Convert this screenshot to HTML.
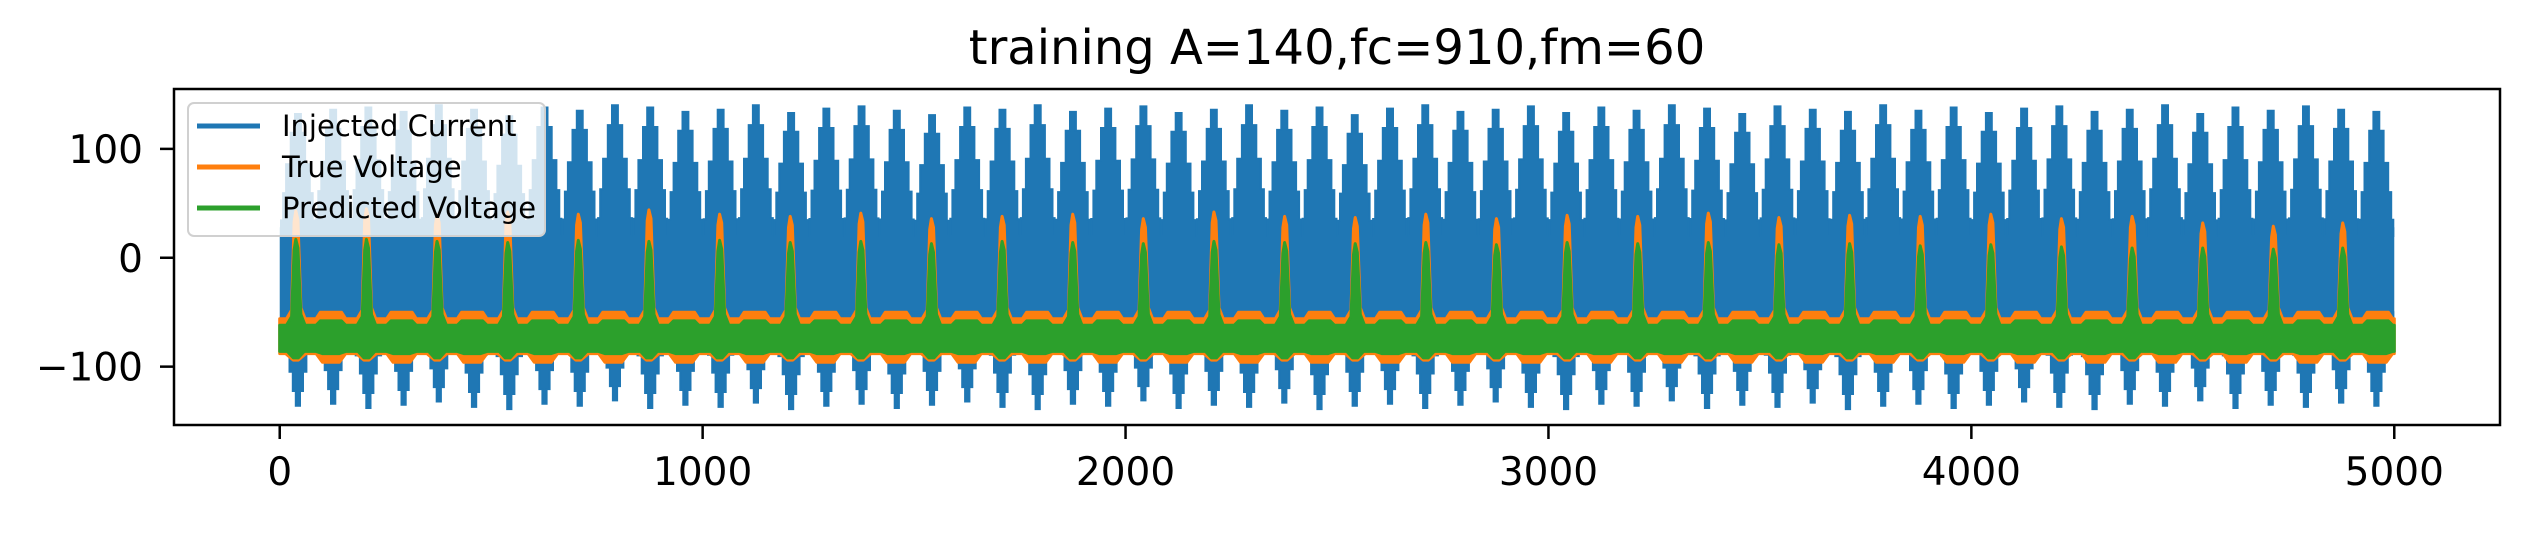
<!DOCTYPE html>
<html><head><meta charset="utf-8"><style>
html,body{margin:0;padding:0;background:#fff;}
svg{display:block;font-family:"DejaVu Sans","Liberation Sans",sans-serif;}
</style></head><body>
<svg id="chart" width="2528" height="540" viewBox="0 0 2528 540" xmlns="http://www.w3.org/2000/svg">
<rect width="2528" height="540" fill="#fff"/>
<text x="1337" y="64" font-size="48" text-anchor="middle">training A=140,fc=910,fm=60</text>
<defs><clipPath id="plotclip"><rect x="174" y="89" width="2326" height="336"/></clipPath></defs>
<g id="series" clip-path="url(#plotclip)"></g>
<g id="axes"></g>
<g id="legend"></g>
</svg>
<script>
// ---- data ----
const xTicks = [0, 1000, 2000, 3000, 4000, 5000];
const yTicks = [100, 0, -100];
const seriesNames = ["Injected Current", "True Voltage", "Predicted Voltage"];
const burstStart = 43;
const burstPeriod = 83.3;
const burstTop = [132,136,138,134,140,136,130,138,135,140,138,134,136,140,133,137,139,135,131,138,136,140,134,137,139,133,136,140,135,138,131,137,140,134,136,139,133,138,135,140,137,132,139,136,134,140,135,138,133,137,139,134,136,140,132,138,135,139,136,134];
const burstBottom = [-136,-134,-138,-135,-132,-137,-139,-134,-136,-131,-138,-135,-137,-133,-139,-136,-134,-138,-135,-132,-137,-139,-134,-136,-131,-138,-135,-137,-133,-139,-136,-134,-138,-135,-132,-137,-139,-134,-136,-131,-138,-135,-137,-133,-139,-136,-134,-138,-135,-132,-137,-139,-134,-136,-131,-138,-135,-137,-133,-136];
const spikeX = [38,205,372,539,706,873,1040,1207,1374,1541,1708,1875,2042,2209,2376,2543,2710,2877,3044,3211,3378,3545,3712,3879,4046,4213,4380,4547,4714,4878];
const trueSpikeTop = [43,45,40,42,40,44,40,38,41,36,38,40,36,42,38,37,40,36,39,38,41,37,39,38,40,36,38,32,29,32];
const predSpikeTop = [17,17,15,14,16,15,16,14,15,13,15,14,13,15,14,13,14,12,14,13,14,12,13,11,12,10,9,9,8,9];
const trueBaseline = -70;
const predBaseline = -72;

// ---- scales ----
const X0 = 174, X1 = 2500, Y0 = 89, Y1 = 425;
const xMin = -250, xMax = 5250, yMin = -153.6, yMax = 155;
function xs(v){ return X0 + (v - xMin) / (xMax - xMin) * (X1 - X0); }
function ys(v){ return Y1 - (v - yMin) / (yMax - yMin) * (Y1 - Y0); }
const NS = "http://www.w3.org/2000/svg";
function mk(tag, attrs, parent){
  const e = document.createElementNS(NS, tag);
  for (const k in attrs) e.setAttribute(k, attrs[k]);
  parent.appendChild(e); return e;
}
const gS = document.getElementById('series');
const gA = document.getElementById('axes');
const gL = document.getElementById('legend');
const BLUE = "#1f77b4", ORANGE = "#ff7f0e", GREEN = "#2ca02c";
function pts(arr){ return arr.map(p => xs(p[0]).toFixed(1) + "," + ys(p[1]).toFixed(1)).join(" "); }
function stepify(arr, rising){
  const out = [];
  for (let j = 0; j < arr.length; j++) {
    if (j > 0) out.push(rising ? [arr[j][0], arr[j-1][1]] : [arr[j-1][0], arr[j][1]]);
    out.push(arr[j]);
  }
  return out;
}

// ---- injected current ----
const band = mk('rect', {x: xs(0), y: ys(28), width: xs(5000) - xs(0), height: ys(-62) - ys(28), fill: BLUE}, gS);


const upFrac = [[1.0, 7], [0.87, 17], [0.65, 28], [0.45, 35], [0.26, 40]];
const dnFrac = [[1.0, 5], [0.9, 12], [0.77, 20], [0.65, 30], [0.5, 40]];
for (let i = 0; i < burstTop.length; i++) {
  const c = burstStart + i * burstPeriod;
  const up = [];
  for (let k = upFrac.length - 1; k >= 0; k--) { up.push([c - upFrac[k][1], burstTop[i]*upFrac[k][0]]); }
  const upR = upFrac.map(f => [c + f[1], burstTop[i]*f[0]]);
  const upPoly = [[c - 40, 20]].concat(stepify(up, true)).concat(stepify(upR, false)).concat([[c + 40, 20]]);
  const p1 = mk('polygon', {points: pts(upPoly), fill: BLUE, stroke: BLUE, 'stroke-width': 2}, gS);
  
  
  const dn = [];
  for (let k = dnFrac.length - 1; k >= 0; k--) { dn.push([c - dnFrac[k][1], burstBottom[i]*dnFrac[k][0]]); }
  const dnR = dnFrac.map(f => [c + f[1], burstBottom[i]*f[0]]);
  const dnPoly = [[c - 40, -50]].concat(stepify(dn, true)).concat(stepify(dnR, false)).concat([[c + 40, -50]]);
  const p2 = mk('polygon', {points: pts(dnPoly), fill: BLUE, stroke: BLUE, 'stroke-width': 2}, gS);
  
  
}

// ---- voltages ----
function voltage(top, base, bumpTop, bumpBot, lo, hi, color, name, w){
  const poly = [[0, base + hi]];
  for (let i = 0; i < spikeX.length; i++) {
    const s = spikeX[i];
    const mid = s + 83;
    poly.push([s - 22, base + hi], [s - 10, base + hi + 8], [s - 4, top[i] - 10], [s, top[i]], [s + 5, top[i] - 8], [s + 12, base + hi + 10], [s + 22, base + hi]);
    if (mid < 5000) poly.push([mid - 35, base + hi], [mid - 25, bumpTop], [mid + 25, bumpTop], [mid + 35, base + hi]);
  }
  poly.push([5000, base + hi], [5000, base + lo]);
  for (let i = spikeX.length - 1; i >= 0; i--) {
    const s = spikeX[i];
    const mid = s + 83;
    if (mid < 5000) poly.push([mid + 35, base + lo], [mid + 20, bumpBot], [mid - 20, bumpBot], [mid - 35, base + lo]);
    poly.push([s + w, base + lo], [s + 6, base + lo - 6], [s - 6, base + lo - 6], [s - w, base + lo]);
  }
  poly.push([0, base + lo]);
  const p = mk('polygon', {points: pts(poly), fill: color, stroke: color, 'stroke-width': 3, 'stroke-linejoin': 'round'}, gS);
  
  
}
voltage(trueSpikeTop, trueBaseline, -50, -96, -18, 14, ORANGE, 'true-voltage-line', 24);
voltage(predSpikeTop, predBaseline, -58, -88, -14, 10, GREEN, 'predicted-voltage-line', 20);

// ---- axes ----
const frame = mk('rect', {x: X0, y: Y0, width: X1 - X0, height: Y1 - Y0, fill: 'none', stroke: '#000', 'stroke-width': 2.5}, gA);


xTicks.forEach(t => {
  const l = mk('line', {x1: xs(t), x2: xs(t), y1: Y1, y2: Y1 + 14, stroke: '#000', 'stroke-width': 2.5}, gA);
  
  
  const tx = mk('text', {x: xs(t), y: 485, 'font-size': 39, 'text-anchor': 'middle'}, gA);
  tx.textContent = String(t);
  
  
});
yTicks.forEach(t => {
  const l = mk('line', {x1: X0 - 14, x2: X0, y1: ys(t), y2: ys(t), stroke: '#000', 'stroke-width': 2.5}, gA);
  
  
  const tx = mk('text', {x: 143, y: ys(t) + 14, 'font-size': 39, 'text-anchor': 'end'}, gA);
  tx.textContent = t < 0 ? "\u2212" + Math.abs(t) : String(t);
  
  
});

// ---- legend ----
const lb = mk('rect', {x: 188, y: 103, width: 357, height: 133, rx: 6, fill: 'rgba(255,255,255,0.8)', stroke: '#d0d0d0', 'stroke-width': 2}, gL);


const colors = [BLUE, ORANGE, GREEN];
seriesNames.forEach((n, i) => {
  const yy = 126 + i * 41;
  const l = mk('line', {x1: 197, x2: 260, y1: yy, y2: yy, stroke: colors[i], 'stroke-width': 5}, gL);
  
  
  const t = mk('text', {x: 282, y: yy + 10, 'font-size': 29}, gL);
  t.textContent = n;
  
  
});
</script>
</body></html>
